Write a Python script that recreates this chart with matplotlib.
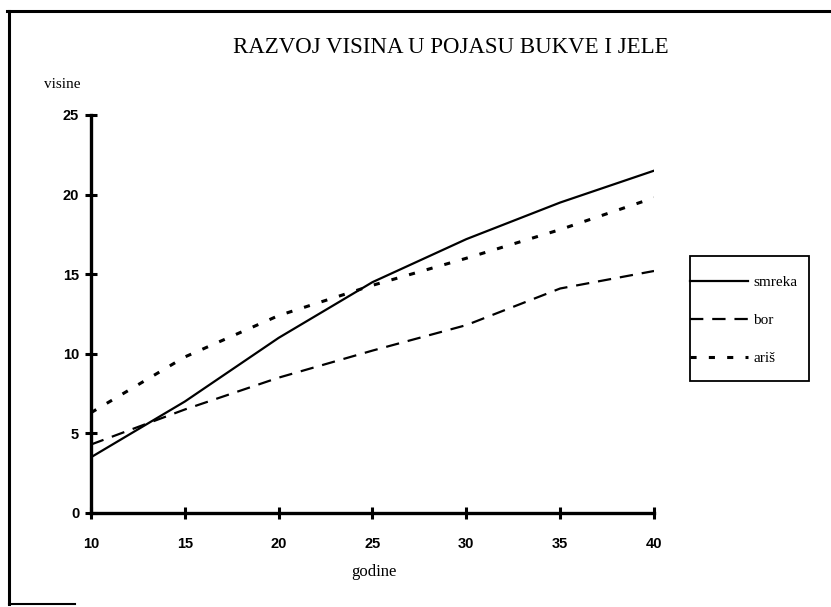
import matplotlib
matplotlib.use("Agg")
import matplotlib.pyplot as plt
from matplotlib.lines import Line2D
from matplotlib.patches import Rectangle

# visine po godinama starosti
godine = [10, 15, 20, 25, 30, 35, 40]
smreka = [3.5, 7.0, 11.0, 14.5, 17.2, 19.5, 21.5]
bor = [4.3, 6.5, 8.5, 10.2, 11.8, 14.1, 15.2]
aris = [6.3, 9.8, 12.4, 14.3, 16.0, 17.8, 19.8]

serif = ["Liberation Serif", "DejaVu Serif"]
sans = ["Liberation Sans Narrow", "Liberation Sans", "DejaVu Sans"]

fig = plt.figure(figsize=(8.31, 6.07), dpi=100)
ax = fig.add_axes([0.1095, 0.1549, 0.6775, 0.6557])

ax.plot(godine, smreka, color="black", lw=1.6, label="smreka")
ax.plot(godine, bor, color="black", lw=1.6, dashes=(6, 4), label="bor")
ax.plot(godine, aris, color="black", lw=2.2, dashes=(2, 4), label="ariš")

ax.set_xlim(10, 40)
ax.set_ylim(0, 25)
ax.set_xticks(range(10, 41, 5))
ax.set_yticks(range(0, 26, 5))

for side in ["top", "right"]:
    ax.spines[side].set_visible(False)
for side in ["left", "bottom"]:
    ax.spines[side].set_linewidth(2.4)
ax.tick_params(direction="inout", length=9, width=2.2)
ax.tick_params(axis="x", pad=13)
ax.tick_params(axis="y", pad=4)
for lab in ax.get_xticklabels() + ax.get_yticklabels():
    lab.set_family(sans)
    lab.set_fontweight("bold")
    lab.set_fontsize(10.5)

fig.text(0.542, 0.921, "RAZVOJ VISINA U POJASU BUKVE I JELE",
         family=serif, fontsize=16.5, ha="center", va="center")
fig.text(0.053, 0.86, "visine", family=serif, fontsize=11, ha="left", va="center")
fig.text(0.45, 0.058, "godine", family=serif, fontsize=12, ha="center", va="center")

# legenda bez okvira, okvir se crta posebno
leg = ax.legend(loc="upper left", bbox_to_anchor=(1.064, 0.597), borderaxespad=0,
                frameon=False, handlelength=3.8, handletextpad=0.35,
                labelspacing=1.6, borderpad=0,
                prop={"family": serif, "size": 11})
ax.add_patch(Rectangle((1.064, 0.332), 0.211, 0.314, transform=ax.transAxes,
                       fill=False, edgecolor="black", lw=1.3, clip_on=False))

# okvir oko slike
fig.add_artist(Line2D([0.008, 1.0], [0.982, 0.982], color="black", lw=2.2,
                      transform=fig.transFigure))
fig.add_artist(Line2D([0.011, 0.011], [0.982, 0.005], color="black", lw=2.2,
                      transform=fig.transFigure))
fig.add_artist(Line2D([0.011, 0.09], [0.005, 0.005], color="black", lw=1.5,
                      transform=fig.transFigure))

fig.savefig("out.png", dpi=100)
